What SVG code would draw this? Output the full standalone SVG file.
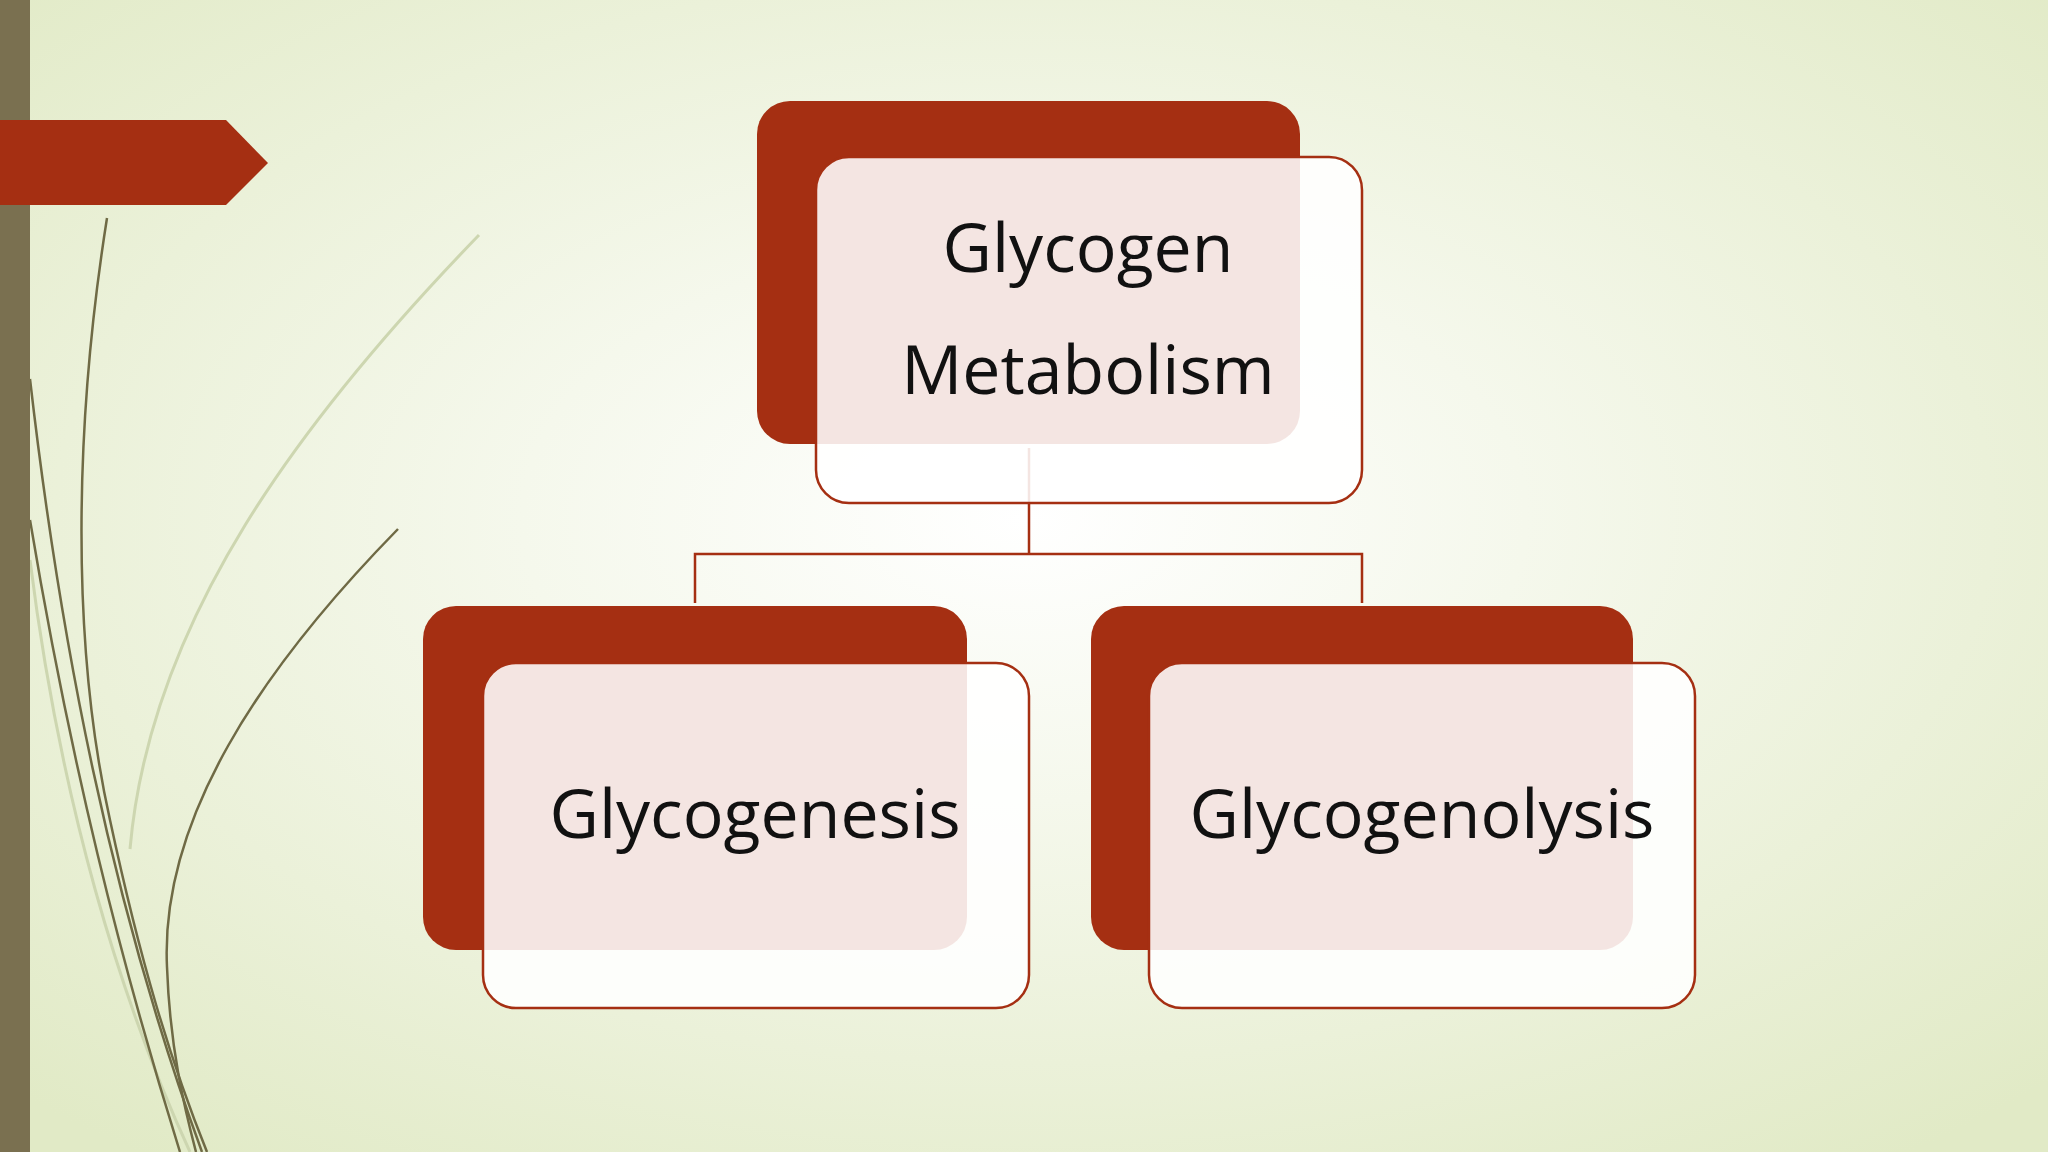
<svg xmlns="http://www.w3.org/2000/svg" width="2048" height="1152" viewBox="0 0 2048 1152">
<defs>
<radialGradient id="bg" cx="0.5" cy="0.45" r="0.7">
<stop offset="0" stop-color="#ffffff"/><stop offset="0.35" stop-color="#f5f8ec"/><stop offset="1" stop-color="#e1eac6"/>
</radialGradient>
<style>
.back{fill:#a52f12}
.front{fill:#ffffff;fill-opacity:0.88;stroke:#a52f12;stroke-width:2.5}
.lbl{font-family:"Open Sans","Noto Sans",sans-serif;font-size:68px;fill:#111;text-anchor:middle}
.conn{fill:none;stroke:#a52f12;stroke-width:2.5}
.grass{fill:none;stroke:#6f6a45;stroke-width:2.5}
.grassl{fill:none;stroke:#cdd6b0;stroke-width:3}
</style>
</defs>
<rect width="2048" height="1152" fill="url(#bg)"/>
<g id="decor">
<path class="grassl" d="M479,235 C300,420 150,620 130,849"/>
<path class="grassl" d="M30,560 C60,800 120,1000 190,1152"/>
<path class="grass" d="M107,218 C75,420 70,640 110,820 C140,960 170,1060 207,1152"/>
<path class="grass" d="M398,529 C260,670 160,820 167,967 C170,1050 185,1110 196,1152"/>
<path class="grass" d="M30,379 C60,640 110,900 202,1152"/>
<path class="grass" d="M30,520 C70,760 120,960 180,1152"/>
<rect x="0" y="0" width="30" height="1152" fill="#7a7050"/>
<path d="M0,120 L226,120 L268,163 L226,205 L0,205 Z" fill="#a52f12"/>
</g>
<g id="connectors">
<path class="conn" d="M1029,448 V554 M695,603 V554 H1362 V603"/>
</g>
<g id="node-top">
<rect class="back" x="757" y="101" width="543" height="343" rx="33"/>
<rect class="front" x="816" y="157" width="546" height="346" rx="33"/>
<text class="lbl" x="1088" y="272">Glycogen</text>
<text class="lbl" x="1088" y="394">Metabolism</text>
</g>
<g id="node-left">
<rect class="back" x="423" y="606" width="544" height="344" rx="33"/>
<rect class="front" x="483" y="663" width="546" height="345" rx="33"/>
<text class="lbl" x="755" y="838">Glycogenesis</text>
</g>
<g id="node-right">
<rect class="back" x="1091" y="606" width="542" height="344" rx="33"/>
<rect class="front" x="1149" y="663" width="546" height="345" rx="33"/>
<text class="lbl" x="1422" y="838">Glycogenolysis</text>
</g>
</svg>
